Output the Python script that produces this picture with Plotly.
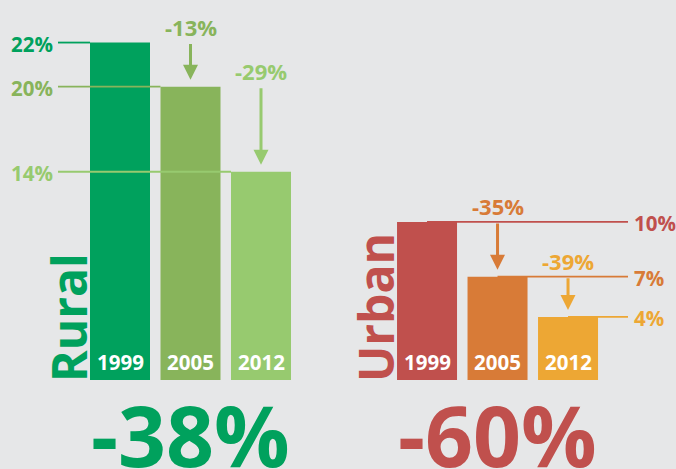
import plotly.graph_objects as go

# ---------------- data ----------------
groups = ["Rural", "Urban"]
years = ["1999", "2005", "2012"]
rural_values = [22.2, 19.3, 13.7]
urban_values = [10.4, 6.8, 4.15]
rural_labels = ["22%", "20%", "14%"]
urban_labels = ["10%", "7%", "4%"]
rural_changes = ["-13%", "-29%"]
urban_changes = ["-35%", "-39%"]
totals = ["-38%", "-60%"]

# ---------------- style ----------------
rural_colors = ["#00a15d", "#88b45b", "#97ca6f"]
urban_colors = ["#c0504d", "#d87b37", "#eda734"]
BG = "#e6e7e8"
FONT = "Open Sans"

W, H = 676, 469
STEP = 70.5          # px between bar centers
X0 = 120             # px of first bar center
PXU = 15.2           # px per percentage point
BASE = 380           # px of the zero line


def px_x(p):
    return (p - X0) / STEP


def px_y(p):
    return (BASE - p) / PXU


rural_x = [0, 1, 2]
urban_x = [4.355, 5.355, 6.355]
bar_w = 60 / STEP

fig = go.Figure()
fig.add_trace(go.Bar(x=rural_x, y=rural_values, width=bar_w,
                     marker=dict(color=rural_colors, line=dict(width=0)),
                     hoverinfo="skip"))
fig.add_trace(go.Bar(x=urban_x, y=urban_values, width=bar_w,
                     marker=dict(color=urban_colors, line=dict(width=0)),
                     hoverinfo="skip"))

shapes = []
ann = []


def font(size, color):
    return dict(family=FONT, size=size, color=color, weight=700)


# reference lines + value labels
for i, v in enumerate(rural_values):
    shapes.append(dict(type="line", layer="above", xref="x", yref="y",
                       x0=px_x(58), x1=rural_x[i] - bar_w / 2, y0=v, y1=v,
                       line=dict(color=rural_colors[i], width=1.8)))
    ann.append(dict(x=px_x(55), y=v, xref="x", yref="y", xanchor="right",
                    yanchor="middle", yshift=-1, showarrow=False,
                    text=rural_labels[i], font=font(20.5, rural_colors[i])))
for i, v in enumerate(urban_values):
    shapes.append(dict(type="line", layer="above", xref="x", yref="y",
                       x0=urban_x[i], x1=px_x(628), y0=v, y1=v,
                       line=dict(color=urban_colors[i], width=1.8)))
    ann.append(dict(x=px_x(632), y=v, xref="x", yref="y", xanchor="left",
                    yanchor="middle", yshift=-1, showarrow=False,
                    text=urban_labels[i], font=font(20.5, urban_colors[i])))

# change arrows + labels
for xs, vals, changes, cols in [(rural_x, rural_values, rural_changes, rural_colors),
                                (urban_x, urban_values, urban_changes, urban_colors)]:
    for i, ch in enumerate(changes):
        c = cols[i + 1]
        ann.append(dict(x=xs[i + 1], y=vals[i + 1], ax=xs[i + 1], ay=vals[i],
                        xref="x", yref="y", axref="x", ayref="y", text="",
                        showarrow=True, arrowhead=2, arrowsize=1, arrowwidth=3,
                        arrowcolor=c, standoff=7))
        ann.append(dict(x=xs[i + 1], y=vals[i], xref="x", yref="y",
                        yanchor="middle", yshift=16, showarrow=False,
                        text=ch, font=font(22, c)))

# year labels inside bars
for xs in (rural_x, urban_x):
    for i, yr in enumerate(years):
        ann.append(dict(x=xs[i], y=0, xref="x", yref="y", yanchor="middle",
                        yshift=BASE - 362, showarrow=False, text=yr,
                        font=font(20.5, "white")))

# rotated group labels
for g, xs, col in [(groups[0], rural_x, rural_colors[0]),
                   (groups[1], urban_x, urban_colors[0])]:
    ann.append(dict(x=xs[0] - bar_w / 2, y=0, xref="x", yref="y",
                    xanchor="right", yanchor="bottom", xshift=13, yshift=-4,
                    textangle=-90, showarrow=False, text=g,
                    font=font(48, col)))

# totals
for t, xs, col in [(totals[0], rural_x, rural_colors[0]),
                   (totals[1], urban_x, urban_colors[0])]:
    ann.append(dict(x=xs[1], y=px_y(434), xref="x", yref="y",
                    yanchor="middle", showarrow=False, text=t,
                    font=font(84, col)))

fig.update_layout(
    width=W, height=H, barmode="overlay", showlegend=False,
    paper_bgcolor=BG, plot_bgcolor=BG,
    margin=dict(l=0, r=0, t=0, b=0, pad=0),
    xaxis=dict(visible=False, range=[px_x(0), px_x(W)], fixedrange=True),
    yaxis=dict(visible=False, range=[px_y(H), px_y(0)], fixedrange=True),
    shapes=shapes, annotations=ann,
)

fig.write_html("out.html", config={"displayModeBar": False},
               post_script="document.body.style.margin='0';"
                           "document.body.style.overflow='hidden';")
